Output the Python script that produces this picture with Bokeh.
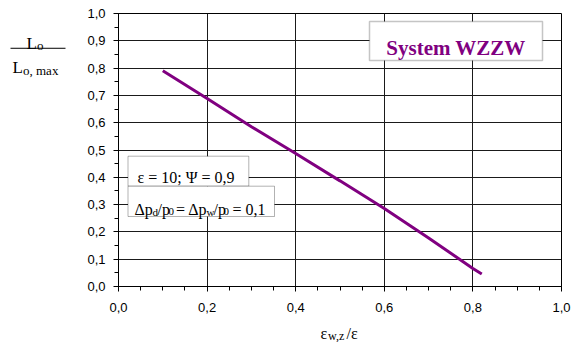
from bokeh.plotting import figure
from bokeh.models import FixedTicker, Label, BoxAnnotation, Range1d
from bokeh.layouts import row, column
from bokeh.core.properties import value
from bokeh.embed import file_html
from bokeh.resources import INLINE

# ---- data ----
x_vals = [0.10, 0.20, 0.30, 0.40, 0.50, 0.60, 0.70, 0.80, 0.82]
y_vals = [0.790, 0.689, 0.585, 0.487, 0.387, 0.286, 0.178, 0.066, 0.046]
x_ticks = [0.0, 0.2, 0.4, 0.6, 0.8, 1.0]
x_tick_labels = ["0,0", "0,2", "0,4", "0,6", "0,8", "1,0"]
y_ticks = [0.0, 0.1, 0.2, 0.3, 0.4, 0.5, 0.6, 0.7, 0.8, 0.9, 1.0]
y_tick_labels = ["0,0", "0,1", "0,2", "0,3", "0,4", "0,5", "0,6", "0,7", "0,8", "0,9", "1,0"]
minor = [round(i * 0.05, 2) for i in range(21)]

title_text = "System WZZW"
param_text = "ε = 10; Ψ = 0,9"

PURPLE = "#800080"
SERIF = "Liberation Serif"
SANS = "Liberation Sans"

TOTAL_W = 571
LEFT_W = 70
MAIN_W, MAIN_H = 501, 318
BOT_H = 24

# frame in page px: left 118, right 561, top 13, bottom 286
FL, FR, FT, FB = 118.0, 561.0, 13.0, 286.0
def px(xp):
    return (xp - FL) / (FR - FL)
def py(yp):
    return (FB - yp) / (FB - FT)

p = figure(width=MAIN_W, height=MAIN_H, output_backend="svg", toolbar_location=None,
           x_range=Range1d(0, 1), y_range=Range1d(0, 1),
           min_border_left=int(FL - LEFT_W), min_border_right=int(LEFT_W + MAIN_W - FR),
           min_border_top=int(FT), min_border_bottom=int(MAIN_H - FB))
p.background_fill_color = "white"
p.border_fill_color = "white"
p.outline_line_color = "#000000"
p.outline_line_width = 1

for ax in (p.xaxis[0], p.yaxis[0]):
    ax.axis_line_color = "#000000"
    ax.major_tick_line_color = "#000000"
    ax.minor_tick_line_color = "#000000"
    ax.major_tick_in = 0
    ax.major_tick_out = 5
    ax.minor_tick_in = 0
    ax.minor_tick_out = 4
    ax.major_label_text_font = SANS
    ax.major_label_text_font_size = "13px"
    ax.major_label_text_color = "#000000"

p.xaxis.ticker = FixedTicker(ticks=x_ticks, minor_ticks=minor)
p.yaxis.ticker = FixedTicker(ticks=y_ticks, minor_ticks=minor)
p.xaxis.major_label_overrides = {t: l for t, l in zip(x_ticks, x_tick_labels)}
p.yaxis.major_label_overrides = {t: l for t, l in zip(y_ticks, y_tick_labels)}
p.xaxis.major_label_standoff = 11
p.yaxis.major_label_standoff = 8

p.xgrid.ticker = FixedTicker(ticks=x_ticks)
p.ygrid.ticker = FixedTicker(ticks=y_ticks)
p.xgrid.grid_line_color = "#1a1a1a"
p.ygrid.grid_line_color = "#1a1a1a"
p.xgrid.grid_line_width = 1
p.ygrid.grid_line_width = 1

p.line(x_vals, y_vals, line_color=PURPLE, line_width=3)

# boxes
p.add_layout(BoxAnnotation(left=px(369), right=px(542), top=py(21), bottom=py(60),
                           fill_color="white", fill_alpha=1, line_color="#404040", line_width=1.5))
p.add_layout(BoxAnnotation(left=px(127.5), right=px(248.3), top=py(155.7), bottom=py(185.7),
                           fill_color="white", fill_alpha=1, line_color="#000000", line_width=1))
p.add_layout(BoxAnnotation(left=px(127.5), right=px(274), top=py(185.7), bottom=py(216),
                           fill_color="white", fill_alpha=1, line_color="#000000", line_width=1))

def lab(text, xp, yp, size, align="left", color="#000000", style="normal"):
    p.add_layout(Label(x=px(xp), y=py(yp), text=text, text_font=SERIF, text_font_size=size,
                       text_align=align, text_baseline="alphabetic", text_color=color,
                       text_font_style=style))

lab(title_text, 455.5, 47.5, "21px", align="center", color=PURPLE, style="bold")
lab(param_text, 137, 177, "16px")

# Δp_d/p_0 = Δp_w/p_0 = 0,1
lab("Δp", 134, 209, "16px")
lab("d", 152, 211, "11px")
lab("/p", 157, 209, "16px")
lab("0", 168, 211, "11px")
lab("= Δp", 175.5, 209, "16px")
lab("w", 206, 211, "11px")
lab("/p", 213, 209, "16px")
lab("0", 223, 211, "11px")
lab("= 0,1", 232, 209, "16px")


def text_fig(w, h):
    f = figure(width=w, height=h,
               x_range=Range1d(0, w), y_range=Range1d(h, 0),
               output_backend="svg", toolbar_location=None, min_border=0,
               min_border_left=0, min_border_right=0, min_border_top=0, min_border_bottom=0,
               x_axis_type=None, y_axis_type=None)
    f.grid.visible = False
    f.outline_line_color = None
    f.background_fill_color = "white"
    f.border_fill_color = "white"
    return f

def txt(f, s, x, y, size):
    f.text(x=[x], y=[y], text=[s], text_font=value(SERIF), text_font_size=value(size),
           text_align="left", text_baseline="alphabetic", text_color="#000000")

# y-axis title as fraction L_o / L_o,max
pl = text_fig(LEFT_W, MAIN_H)
txt(pl, "L", 26, 34.5, "17px")
txt(pl, "o", 36.5, 37, "13px")
pl.line(x=[10, 65], y=[40.5, 40.5], line_color="#000000", line_width=1)
txt(pl, "L", 12, 63, "17px")
txt(pl, "o, max", 22.5, 66, "13px")

# x-axis title ε_w,z/ε  (full-width strip, page coordinates)
oy = MAIN_H
pb = text_fig(TOTAL_W, BOT_H)
txt(pb, "ε", 320, 332.5 - oy, "16px")
txt(pb, "w,z", 327.5, 335.0 - oy, "12px")
txt(pb, "/ε", 346, 332.5 - oy, "16px")

layout = column(row(pl, p), pb)

open("out.html", "w").write(file_html(layout, INLINE))
